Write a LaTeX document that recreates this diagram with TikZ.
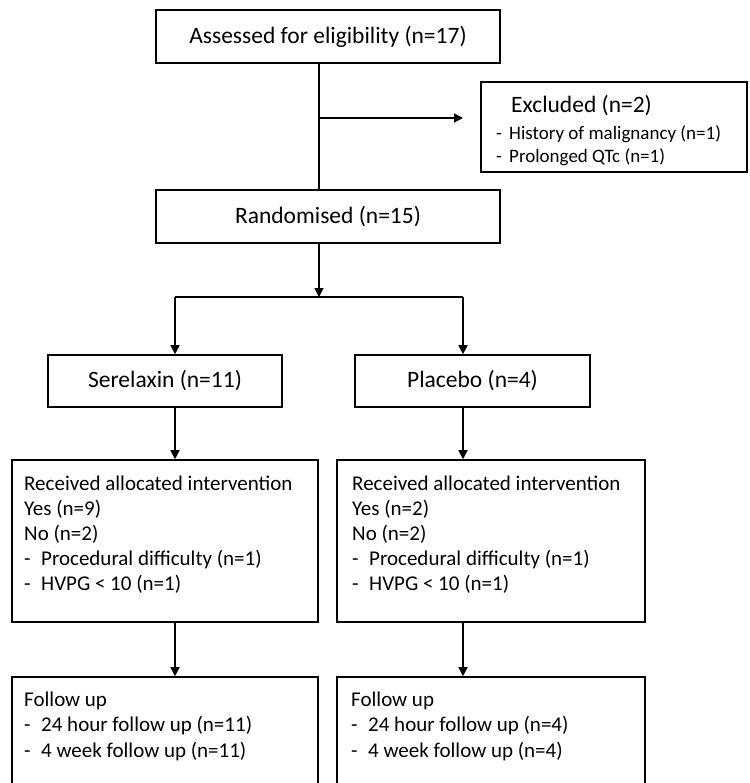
\documentclass[tikz,border=0pt]{standalone}
\usepackage{fontspec}
\setmainfont{Carlito}
\usetikzlibrary{arrows.meta}
\begin{document}
\begin{tikzpicture}[x=1pt,y=-1pt,
  box/.style={draw, line width=1.6pt, inner sep=0pt},
  conn/.style={line width=1.6pt},
  arr/.style={conn, -{Triangle[length=9pt,width=9pt]}},
  big/.style={font=\fontsize{23.5}{28}\selectfont},
  midtxt/.style={font=\fontsize{21}{25}\selectfont, anchor=base west, inner sep=0pt},
  smalltxt/.style={font=\fontsize{19}{24}\selectfont, anchor=base west, inner sep=0pt}]
\useasboundingbox (0,0) rectangle (749,783);
\clip (0,0) rectangle (749,783);
% boxes
\node[box, big, minimum width=344pt, minimum height=53pt] (assess) at (328,36.5) {Assessed for eligibility (n=17)};
\node[box, minimum width=266pt, minimum height=90pt] (excl) at (614,127) {};
\node[box, big, minimum width=344pt, minimum height=53pt] (rand) at (328,216.5) {Randomised (n=15)};
\node[box, big, minimum width=234pt, minimum height=52pt] (ser) at (165,381) {Serelaxin (n=11)};
\node[box, big, minimum width=235pt, minimum height=52pt] (plac) at (472.5,381) {Placebo (n=4)};
\node[box, minimum width=306pt, minimum height=162pt] (recL) at (165,541) {};
\node[box, minimum width=308pt, minimum height=162pt] (recR) at (491,541) {};
\node[box, minimum width=306pt, minimum height=140pt] (fuL) at (165,747) {};
\node[box, minimum width=308pt, minimum height=140pt] (fuR) at (491,747) {};
% excluded text
\node[anchor=base west, inner sep=0pt, font=\fontsize{23.5}{28}\selectfont] (ex0) at (511,113) {Excluded (n=2)};
\node[smalltxt] (ex1) at (496,140) {\makebox[13pt][l]{-}History of malignancy (n=1)};
\node[smalltxt] (ex2) at (496,163) {\makebox[13pt][l]{-}Prolonged QTc (n=1)};
% received text
\node[midtxt] (rl1) at (24,490) {Received allocated intervention};
\node[midtxt] (rl2) at (24,515) {Yes (n=9)};
\node[midtxt] (rl3) at (24,540) {No (n=2)};
\node[midtxt] (rl4) at (24,565) {\makebox[17pt][l]{-}Procedural difficulty (n=1)};
\node[midtxt] (rl5) at (24,590) {\makebox[17pt][l]{-}HVPG < 10 (n=1)};
\node[midtxt] (rr1) at (352,490) {Received allocated intervention};
\node[midtxt] (rr2) at (352,515) {Yes (n=2)};
\node[midtxt] (rr3) at (352,540) {No (n=2)};
\node[midtxt] (rr4) at (352,565) {\makebox[17pt][l]{-}Procedural difficulty (n=1)};
\node[midtxt] (rr5) at (352,590) {\makebox[17pt][l]{-}HVPG < 10 (n=1)};
% follow up text
\node[midtxt] (fl1) at (24,706) {Follow up};
\node[midtxt] (fl2) at (24,731) {\makebox[17pt][l]{-}24 hour follow up (n=11)};
\node[midtxt] (fl3) at (24,757) {\makebox[17pt][l]{-}4 week follow up (n=11)};
\node[midtxt] (fr1) at (351,706) {Follow up};
\node[midtxt] (fr2) at (351,731) {\makebox[17pt][l]{-}24 hour follow up (n=4)};
\node[midtxt] (fr3) at (351,757) {\makebox[17pt][l]{-}4 week follow up (n=4)};
% connectors
\coordinate (j1) at (319,118);
\coordinate (xe) at (463,118);
\coordinate (br) at (319,297);
\coordinate (bl) at (175,297);
\coordinate (brr) at (463,297);
\draw[conn] (assess.south -| j1) -- (rand.north -| j1);
\draw[arr] (j1) -- (xe);
\draw[arr] (rand.south -| br) -- (br);
\draw[conn] (bl) -- (brr);
\draw[arr] (bl) -- (ser.north -| bl);
\draw[arr] (brr) -- (plac.north -| brr);
\draw[arr] (ser.south -| bl) -- (recL.north -| bl);
\draw[arr] (plac.south -| brr) -- (recR.north -| brr);
\draw[arr] (recL.south -| bl) -- (fuL.north -| bl);
\draw[arr] (recR.south -| brr) -- (fuR.north -| brr);
\end{tikzpicture}
\end{document}
